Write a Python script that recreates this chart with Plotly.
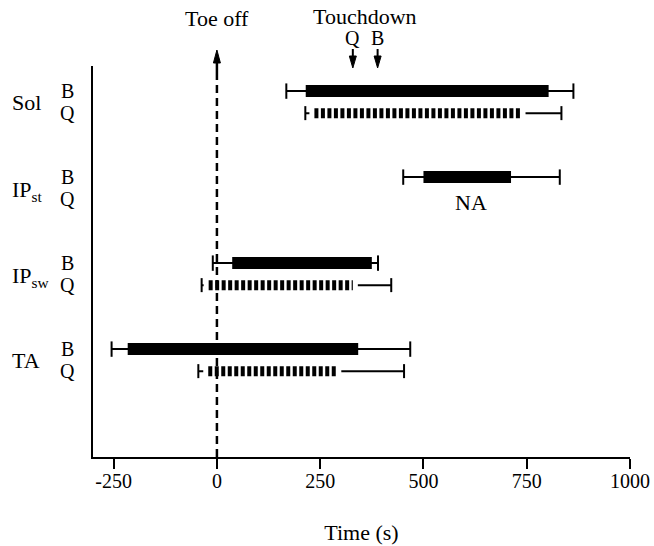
import plotly.graph_objects as go

# ---------------- data ----------------
muscles = ["Sol", "IP<sub>st</sub>", "IP<sub>sw</sub>", "TA"]
# Bounding (B) gait: burst on/off and SD whisker ends (time, s)
b_on = [215, 500, 37, -216]
b_off = [803, 712, 375, 342]
b_lo = [168, 451, -10, -255]
b_hi = [863, 830, 390, 468]
# Quadrupedal (Q) gait; None = not available
q_on = [236, None, -20, -21]
q_off = [735, None, 329, 289]
q_lo = [214, None, -37, -45]
q_hi = [834, None, 422, 453]
touchdown = {"Q": 329, "B": 389}
toe_off = 0
na_time = 615
x_ticks = [-250, 0, 250, 500, 750, 1000]
x_tick_text = ["-250", "0", "250", "500", "750", "1000"]

# ---------------- layout constants ----------------
W, H = 654, 546
ML, MR, MT, MB = 93, 24, 66, 89
PLOT_W = W - ML - MR
PLOT_H = H - MT - MB
X_MIN, X_MAX = -300, 1000
PX_PER_UNIT = PLOT_W / (X_MAX - X_MIN)
PX_PER_ROW = 86
Y_TOP = -0.42
Y_BOT = Y_TOP + PLOT_H / PX_PER_ROW
ROW_OFF = 0.128
FONT = "Liberation Serif, Times New Roman, DejaVu Serif, serif"
FS = 22
SMALL_FS = 20
TICK_FS = 20


def px_to_data(px):
    return px / PX_PER_UNIT


def py_to_paper(py):
    return 1 - (py - MT) / PLOT_H


def xpx_to_paper(px):
    return (px - ML) / PLOT_W


fig = go.Figure()
black = "black"

for i, m in enumerate(muscles):
    yb = i - ROW_OFF
    yq = i + ROW_OFF
    # B whisker
    fig.add_trace(go.Scatter(x=[b_lo[i], b_hi[i]], y=[yb, yb], mode="lines+markers",
                             line=dict(color=black, width=2),
                             marker=dict(symbol="line-ns", size=11, line=dict(color=black, width=2)),
                             hoverinfo="skip", showlegend=False))
    # B bar
    fig.add_trace(go.Scatter(x=[b_on[i], b_off[i]], y=[yb, yb], mode="lines",
                             line=dict(color=black, width=12),
                             hoverinfo="skip", showlegend=False))
    if q_on[i] is not None:
        gap = px_to_data(5)
        fig.add_trace(go.Scatter(x=[q_lo[i], q_hi[i]], y=[yq, yq], mode="lines+markers",
                                 line=dict(color=black, width=2),
                                 marker=dict(symbol="line-ns", size=10, line=dict(color=black, width=2)),
                                 hoverinfo="skip", showlegend=False))
        fig.add_trace(go.Scatter(x=[q_on[i] - gap, q_off[i] + gap], y=[yq, yq], mode="lines",
                                 line=dict(color="white", width=14),
                                 hoverinfo="skip", showlegend=False))
        fig.add_trace(go.Scatter(x=[q_on[i], q_off[i]], y=[yq, yq], mode="lines",
                                 line=dict(color=black, width=10, dash="4px,2.5px"),
                                 hoverinfo="skip", showlegend=False))
    else:
        fig.add_annotation(x=na_time, y=yq + 0.04, xref="x", yref="y", text="NA", showarrow=False,
                           font=dict(family=FONT, size=FS, color=black))

    # row labels
    fig.add_annotation(x=xpx_to_paper(10), y=i + (0.03 if "sub" in m else 0.0), xref="paper", yref="y",
                       text=m, showarrow=False, xanchor="left", yanchor="middle",
                       font=dict(family=FONT, size=FS, color=black))
    for lab, yy in (("B", yb), ("Q", yq)):
        fig.add_annotation(x=xpx_to_paper(67), y=yy, xref="paper", yref="y", text=lab,
                           showarrow=False, xanchor="center", yanchor="middle",
                           font=dict(family=FONT, size=SMALL_FS, color=black))

shapes = []
# Toe off dashed arrow
head_dx = px_to_data(3.5)
shapes.append(dict(type="line", xref="x", yref="paper", x0=toe_off, x1=toe_off,
                   y0=0, y1=py_to_paper(70), line=dict(color=black, width=2.5, dash="8px,5px")))
shapes.append(dict(type="line", xref="x", yref="paper", x0=toe_off, x1=toe_off,
                   y0=py_to_paper(72), y1=py_to_paper(60), line=dict(color=black, width=2.5)))
shapes.append(dict(type="path", xref="x", yref="paper",
                   path=f"M {toe_off},{py_to_paper(50)} L {toe_off - head_dx},{py_to_paper(63)} "
                        f"L {toe_off + head_dx},{py_to_paper(63)} Z",
                   fillcolor=black, line=dict(color=black, width=1)))
# Touchdown arrows
for lab, t in touchdown.items():
    shapes.append(dict(type="line", xref="x", yref="paper", x0=t, x1=t,
                       y0=py_to_paper(49), y1=py_to_paper(58), line=dict(color=black, width=2)))
    shapes.append(dict(type="path", xref="x", yref="paper",
                       path=f"M {t},{py_to_paper(68)} L {t - head_dx},{py_to_paper(56)} "
                            f"L {t + head_dx},{py_to_paper(56)} Z",
                       fillcolor=black, line=dict(color=black, width=1)))
    fig.add_annotation(x=t, y=py_to_paper(38), xref="x", yref="paper", text=lab, showarrow=False,
                       xanchor="center", yanchor="middle", font=dict(family=FONT, size=SMALL_FS, color=black))

fig.add_annotation(x=toe_off, y=py_to_paper(18), xref="x", yref="paper", text="Toe off", showarrow=False,
                   xanchor="center", yanchor="middle", font=dict(family=FONT, size=FS, color=black))
fig.add_annotation(x=(touchdown["Q"] + touchdown["B"]) / 2, y=py_to_paper(17), xref="x", yref="paper",
                   text="Touchdown", showarrow=False,
                   xanchor="center", yanchor="middle", font=dict(family=FONT, size=FS, color=black))

fig.update_layout(
    width=W, height=H,
    margin=dict(l=ML, r=MR, t=MT, b=MB, autoexpand=False),
    paper_bgcolor="white", plot_bgcolor="white",
    shapes=shapes,
    showlegend=False,
    font=dict(family=FONT, size=FS, color=black),
    xaxis=dict(range=[X_MIN, X_MAX], tickvals=x_ticks, ticktext=x_tick_text,
               ticks="outside", ticklen=10, tickwidth=2, tickcolor=black,
               ticklabelstandoff=-5, automargin=False,
               showline=True, linewidth=2, linecolor=black,
               showgrid=False, zeroline=False,
               tickfont=dict(family=FONT, size=TICK_FS, color=black),
               title=dict(text="Time (s)", font=dict(family=FONT, size=FS, color=black), standoff=34)),
    yaxis=dict(range=[Y_BOT, Y_TOP], showline=True, linewidth=2, linecolor=black, automargin=False,
               showticklabels=False, ticks="", showgrid=False, zeroline=False),
)

fig.write_html("out.html", config={"displayModeBar": False},
               post_script="document.body.style.margin='0';document.body.style.overflow='hidden';")
